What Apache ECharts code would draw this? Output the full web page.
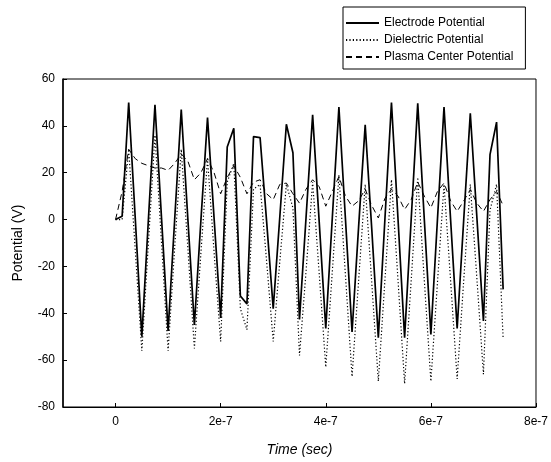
<!DOCTYPE html>
<html>
<head>
<meta charset="utf-8">
<script src="https://cdn.jsdelivr.net/npm/echarts@6/dist/echarts.min.js"></script>
<style>
    html, body { margin: 0; padding: 0; background: #fff; }
    #potential { width: 551px; height: 462px; }
</style>
</head>
<body>
<div id="potential"></div>
<script>
//时间 (单位 1e-7 s)
var timeE7 = [0, 0.125, 0.25, 0.375, 0.5, 0.625, 0.75, 0.875, 1, 1.125,
    1.25, 1.375, 1.5, 1.625, 1.75, 1.875, 2, 2.125, 2.25, 2.375,
    2.5, 2.625, 2.75, 2.875, 3, 3.125, 3.25, 3.375, 3.5, 3.625,
    3.75, 3.875, 4, 4.125, 4.25, 4.375, 4.5, 4.625, 4.75, 4.875,
    5, 5.125, 5.25, 5.375, 5.5, 5.625, 5.75, 5.875, 6, 6.125,
    6.25, 6.375, 6.5, 6.625, 6.75, 6.875, 7, 7.125, 7.25, 7.375];

var electrode = [0, 1.4, 50, 0.5, -50, 0, 49, 0.5, -47.5, 0,
    47, 0.5, -45, 0, 43.5, 0.5, -42, 31, 39, -32.6,
    -36, 35.4, 35, -1, -38, 1, 40.7, 28.5, -42.6, 1,
    44.7, -1, -46.5, 1, 48, 0, -48, -3, 40.4, -4,
    -50.4, 0, 50, 0, -50.4, 0, 49.6, 0, -49, 0,
    48, 0, -46.5, 0, 45.4, 1, -43.3, 27.7, 41.6, -29.8];

var dielectric = [0, 0, 30, -13, -56, -10, 36, -10, -56, -12,
    30, -12, -55, -14, 26, -14, -52, 16, 24, -38,
    -47, 13, 15, -18, -52, -18, 15, 5, -58, -22,
    16, -23, -63, -22, 19, -24, -67, -26, 15, -27,
    -69, -26, 17, -26, -70, -26, 18, -26, -69, -27,
    15, -26, -68, -26, 15, -25, -66, 4, 15, -51];

var plasma = [0, 12, 30, 26, 24, 23, 22, 22, 21, 24,
    28, 25, 17, 20, 26, 20, 11, 18, 23, 18,
    11, 16, 17, 11, 8.5, 15, 15.6, 11, 7, 13,
    17, 14, 5.7, 12, 18.4, 10, 5.7, 8, 13, 6,
    0.7, 9, 13, 10, 4.3, 8.5, 16, 10, 5, 12,
    15.6, 8, 3.5, 8, 12.8, 7, 3.5, 8.5, 12, 6];

var seriesNames = ['Electrode Potential', 'Dielectric Potential', 'Plasma Center Potential'];
var xTicks = [0, 2, 4, 6, 8];
var xTickLabels = ['0', '2e-7', '4e-7', '6e-7', '8e-7'];

function pairs(values) {
    var out = [];
    for (var i = 0; i < timeE7.length; i++) {
        out.push([timeE7[i], values[i]]);
    }
    return out;
}

function drawPotential() {
    var dom = document.getElementById("potential");
    var myChart = echarts.init(dom);
    var font = 'Liberation Sans';
    var option = {
        animation: false,
        textStyle: { fontFamily: font, color: '#000' },
        legend: {
            orient: 'vertical',
            left: 343,
            top: 7,
            width: 192,
            padding: [10, 12, 6, 2],
            itemGap: 5,
            itemWidth: 33,
            itemHeight: 14,
            borderColor: '#000',
            borderWidth: 1,
            itemStyle: { opacity: 0 },
            textStyle: { fontFamily: font, fontSize: 12, color: '#000' },
            data: seriesNames
        },
        grid: {
            left: 63,
            right: 13,
            top: 79,
            bottom: 54,
            show: true,
            borderColor: '#000',
            borderWidth: 1
        },
        xAxis: {
            type: 'value',
            min: -1,
            max: 8,
            name: 'Time (sec)',
            nameLocation: 'middle',
            nameGap: 36,
            nameTextStyle: { fontFamily: font, fontSize: 14, fontStyle: 'italic', color: '#000' },
            splitLine: { show: false },
            axisLine: { onZero: false, lineStyle: { color: '#000', width: 1 } },
            axisTick: { inside: true, length: 4, customValues: xTicks, lineStyle: { color: '#000' } },
            axisLabel: {
                customValues: xTicks,
                margin: 9,
                fontSize: 12,
                color: '#000',
                formatter: function (v) {
                    return xTickLabels[xTicks.indexOf(v)];
                }
            }
        },
        yAxis: {
            type: 'value',
            min: -80,
            max: 60,
            interval: 20,
            name: 'Potential (V)',
            nameLocation: 'middle',
            nameGap: 38,
            nameTextStyle: { fontFamily: font, fontSize: 14, color: '#000' },
            splitLine: { show: false },
            axisLine: { show: true, onZero: false, lineStyle: { color: '#000', width: 1.5 } },
            axisTick: { inside: true, length: 4, lineStyle: { color: '#000' } },
            axisLabel: { margin: 8, fontSize: 12, color: '#000' }
        },
        series: [{
            name: seriesNames[0],
            type: 'line',
            symbol: 'none',
            lineStyle: { color: '#000', width: 1.7, type: 'solid' },
            itemStyle: { color: '#000' },
            data: pairs(electrode)
        }, {
            name: seriesNames[1],
            type: 'line',
            symbol: 'none',
            lineStyle: { color: '#000', width: 1.2, type: [1.2, 2.2] },
            itemStyle: { color: '#000' },
            data: pairs(dielectric)
        }, {
            name: seriesNames[2],
            type: 'line',
            symbol: 'none',
            lineStyle: { color: '#000', width: 1, type: [6, 4] },
            itemStyle: { color: '#000' },
            data: pairs(plasma)
        }]
    };
    if (option && typeof option === "object") {
        myChart.setOption(option, true);
    }
}
drawPotential();
</script>
</body>
</html>
